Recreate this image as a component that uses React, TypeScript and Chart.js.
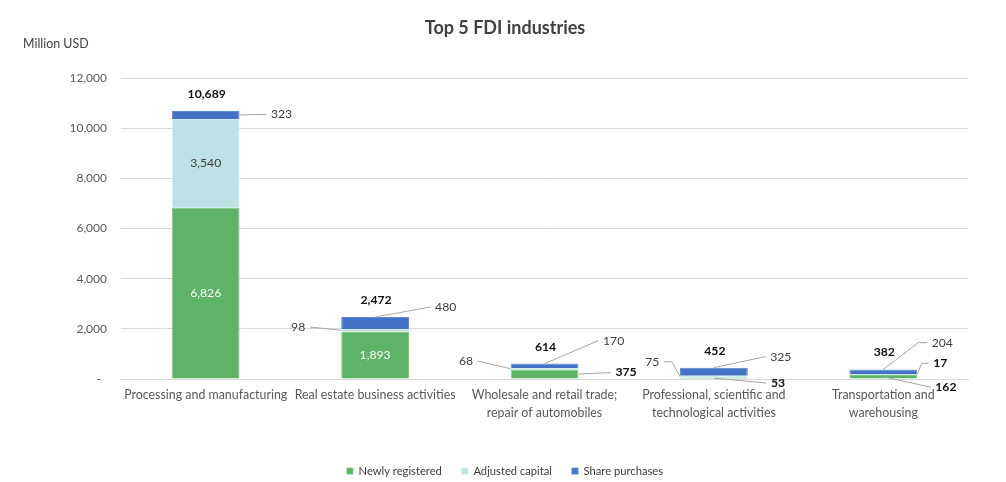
import { useEffect, useRef } from "react";
import { Chart, registerables } from "chart.js";

Chart.register(...registerables);

// ---------------- data ----------------
const categories: string[][] = [
  ["Processing and manufacturing"],
  ["Real estate business activities"],
  ["Wholesale and retail trade;", "repair of automobiles"],
  ["Professional, scientific and", "technological activities"],
  ["Transportation and", "warehousing"],
];
const seriesNames = ["Newly registered", "Adjusted capital", "Share purchases"];
const newlyRegistered = [6826, 1893, 375, 53, 162];
const adjustedCapital = [3540, 98, 68, 75, 17];
const sharePurchases = [323, 480, 170, 325, 204];
const totals = [10689, 2472, 614, 452, 382];
const yMin = 0;
const yMax = 12000;
const yStep = 2000;
const yAxisTitle = "Million USD";
const chartTitle = "Top 5 FDI industries";

// ---------------- styles ----------------
const FONT = 'Lato, "Noto Sans", "DejaVu Sans", sans-serif';
const seriesColors = ["#5DB366", "#BDE1E5", "#4472C4"];
const seriesBorders = ["#7CC884", "#D3ECEF", "#5B8AD8"];
const LEADER = "#A6A6A6";
const TEXT = "#404040";
const BOLD_TEXT = "#111111";

type Spec =
  | { mode: "inside"; color: string }
  | {
      mode: "callout";
      anchor: "left" | "right" | "top" | "center";
      tdx: number;
      tdy: number;
      bold?: boolean;
      elbow?: number;
    };

// label placement per series (rows) and category (columns)
const labelLayout: Spec[][] = [
  [
    { mode: "inside", color: "#FFFFFF" },
    { mode: "inside", color: "#FFFFFF" },
    { mode: "callout", anchor: "right", tdx: 37, tdy: -1.5, bold: true },
    { mode: "callout", anchor: "center", tdx: 57, tdy: 5, bold: true },
    { mode: "callout", anchor: "center", tdx: 52, tdy: 10.5, bold: true },
  ],
  [
    { mode: "inside", color: TEXT },
    { mode: "callout", anchor: "left", tdx: -36, tdy: -3.3 },
    { mode: "callout", anchor: "left", tdx: -37.5, tdy: -7.7 },
    { mode: "callout", anchor: "left", tdx: -20.7, tdy: -15, elbow: 8 },
    { mode: "callout", anchor: "right", tdx: 16, tdy: -11.4, bold: true, elbow: 7 },
  ],
  [
    { mode: "callout", anchor: "right", tdx: 31.4, tdy: -0.6 },
    { mode: "callout", anchor: "top", tdx: 60, tdy: -10 },
    { mode: "callout", anchor: "top", tdx: 58.5, tdy: -23 },
    { mode: "callout", anchor: "top", tdx: 56.3, tdy: -11 },
    { mode: "callout", anchor: "top", tdx: 48.4, tdy: -26.7, elbow: 9 },
  ],
];

const fmt = (v: number) => v.toLocaleString("en-US");

const labelPlugin = {
  id: "fdiLabels",
  afterDatasetsDraw(chart: any) {
    const ctx: CanvasRenderingContext2D = chart.ctx;
    ctx.save();
    const gap = 4.5;
    const tops: number[] = [];
    const xs: number[] = [];
    chart.data.datasets.forEach((ds: any, di: number) => {
      const meta = chart.getDatasetMeta(di);
      meta.data.forEach((bar: any, ci: number) => {
        const p = bar.getProps(["x", "y", "base", "width"], true);
        const top = Math.min(p.y, p.base);
        const bottom = Math.max(p.y, p.base);
        const cy = (top + bottom) / 2;
        const half = p.width / 2;
        xs[ci] = p.x;
        tops[ci] = tops[ci] === undefined ? top : Math.min(tops[ci], top);
        const spec = labelLayout[di][ci];
        const text = fmt(ds.data[ci]);
        if (spec.mode === "inside") {
          ctx.font = `12.2px ${FONT}`;
          ctx.fillStyle = spec.color;
          ctx.textAlign = "center";
          ctx.textBaseline = "middle";
          ctx.fillText(text, p.x, cy);
          return;
        }
        let ax = p.x;
        let ay = cy;
        if (spec.anchor === "left") ax = p.x - half;
        else if (spec.anchor === "right") ax = p.x + half;
        else if (spec.anchor === "top") ay = top;
        const tx = ax + spec.tdx;
        const ty = ay + spec.tdy;
        const dir = spec.tdx >= 0 ? 1 : -1;
        const lineEnd = tx - dir * gap;
        const elbow = spec.elbow || 0;
        ctx.strokeStyle = LEADER;
        ctx.lineWidth = 1;
        ctx.beginPath();
        ctx.moveTo(ax, ay);
        ctx.lineTo(lineEnd - dir * elbow, ty);
        if (elbow) ctx.lineTo(lineEnd, ty);
        ctx.stroke();
        ctx.font = `${spec.bold ? "bold " : ""}12.2px ${FONT}`;
        ctx.fillStyle = spec.bold ? BOLD_TEXT : TEXT;
        ctx.textAlign = dir > 0 ? "left" : "right";
        ctx.textBaseline = "middle";
        ctx.fillText(text, tx, ty);
      });
    });
    // totals
    ctx.font = `bold 12.2px ${FONT}`;
    ctx.fillStyle = BOLD_TEXT;
    ctx.textAlign = "center";
    ctx.textBaseline = "middle";
    totals.forEach((t, ci) => {
      if (xs[ci] === undefined) return;
      ctx.fillText(fmt(t), xs[ci] + 1, tops[ci] - 17);
    });
    // axis unit title
    ctx.font = `12.4px ${FONT}`;
    ctx.fillStyle = TEXT;
    ctx.textAlign = "left";
    ctx.fillText(yAxisTitle, 23, 44);
    ctx.restore();
  },
};

export default function App() {
  const ref = useRef<HTMLCanvasElement | null>(null);
  useEffect(() => {
    if (!ref.current) return;
    const seriesValues = [newlyRegistered, adjustedCapital, sharePurchases];
    const chart = new Chart(ref.current, {
      type: "bar",
      data: {
        labels: categories,
        datasets: seriesNames.map((name, i) => ({
          label: name,
          data: seriesValues[i],
          backgroundColor: seriesColors[i],
          borderColor: seriesBorders[i],
          borderWidth: 1,
          barPercentage: 0.4,
          categoryPercentage: 1,
        })),
      },
      options: {
        animation: false,
        responsive: true,
        maintainAspectRatio: false,
        layout: { padding: { left: 42, right: 38, top: 0, bottom: 0 } },
        plugins: {
          title: {
            display: true,
            text: chartTitle,
            color: TEXT,
            font: { family: FONT, size: 18, weight: "bold", lineHeight: 1.2 },
            padding: { top: 17, bottom: 39.4 },
          },
          legend: {
            position: "bottom",
            maxHeight: 36.5,
            labels: {
              boxWidth: 6,
              boxHeight: 6,
              padding: 20,
              color: TEXT,
              font: { family: FONT, size: 11.2 },
            },
          },
          tooltip: { enabled: false },
        },
        scales: {
          x: {
            stacked: true,
            grid: { display: false, drawTicks: false },
            border: { display: true, color: "#D9D9D9" },
            ticks: {
              color: "#595959",
              font: { family: FONT, size: 12.4, lineHeight: 1.45 },
              padding: 7,
              maxRotation: 0,
              autoSkip: false,
            },
            afterFit: (s: any) => {
              s.height = 66.5;
            },
          },
          y: {
            stacked: true,
            min: yMin,
            max: yMax,
            grid: { color: "#D9D9D9", drawTicks: false },
            border: { display: false },
            ticks: {
              stepSize: yStep,
              color: "#595959",
              font: { family: FONT, size: 12 },
              padding: 14,
              callback: (v: any) => (Number(v) === 0 ? "-  " : fmt(Number(v))),
            },
            afterFit: (s: any) => {
              s.width = 79;
            },
          },
        },
      },
      plugins: [labelPlugin],
    } as any);
    return () => chart.destroy();
  }, []);
  return (
    <div style={{ position: "absolute", left: 0, top: 0, width: 1006, height: 482, background: "#fff" }}>
      <canvas ref={ref} />
    </div>
  );
}
